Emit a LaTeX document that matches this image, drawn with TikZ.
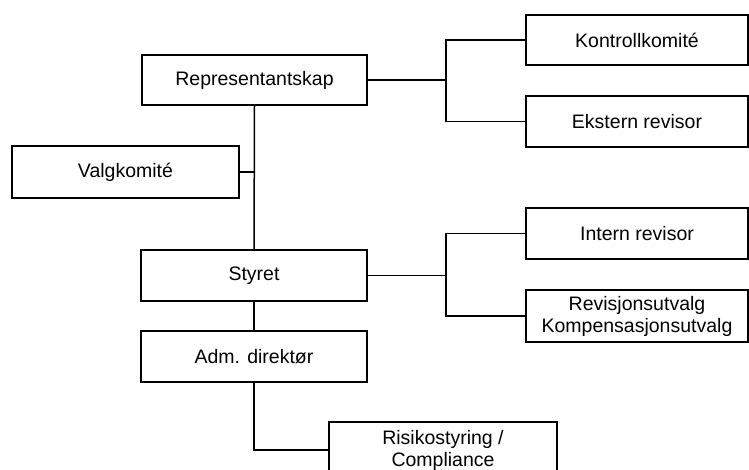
\documentclass[tikz,border=0pt]{standalone}
\usepackage{fontspec}
\setmainfont{Liberation Sans}
\begin{document}
\begin{tikzpicture}[x=1pt,y=-1pt,
  box/.style={draw=black,line width=1.5pt,rectangle,inner sep=0pt,align=center,
    font=\fontsize{19.5}{22}\selectfont},
  conn/.style={draw=black,line width=1.5pt}]
\useasboundingbox (0,0) rectangle (749,470);
\node[box,minimum width=225pt,minimum height=50pt] (repr) at (254.5,80) {Representantskap};
\node[box,minimum width=227pt,minimum height=52pt] (valg) at (125.5,172) {Valgkomité};
\node[box,minimum width=226pt,minimum height=51pt] (styret) at (254,275.5) {Styret};
\node[box,minimum width=226pt,minimum height=51pt] (adm) at (254,356.5) {Adm. direktør};
\node[box,minimum width=228pt,minimum height=56pt] (risiko) at (443,450) {Risikostyring /\\Compliance};
\node[box,minimum width=222pt,minimum height=50pt] (kontroll) at (637,40) {Kontrollkomité};
\node[box,minimum width=222pt,minimum height=51pt] (ekstern) at (637,121.5) {Ekstern revisor};
\node[box,minimum width=222pt,minimum height=51pt] (intern) at (637,233.5) {Intern revisor};
\node[box,minimum width=222pt,minimum height=52pt] (revisjon) at (637,316) {Revisjonsutvalg\\Kompensasjonsutvalg};
\coordinate (b1) at (446,80);
\coordinate (b2) at (446,275.5);
\draw[conn] (repr.south) -- (styret.north);
\draw[conn] (valg.east) -- (valg.east -| repr.south);
\draw[conn] (styret.south) -- (adm.north);
\draw[conn] (adm.south) |- (risiko.west);
\draw[conn] (repr.east) -- (b1);
\draw[conn] (kontroll.west) -| (b1) |- (ekstern.west);
\draw[conn] (styret.east) -- (b2);
\draw[conn] (intern.west) -| (b2) |- (revisjon.west);
\end{tikzpicture}
\end{document}
